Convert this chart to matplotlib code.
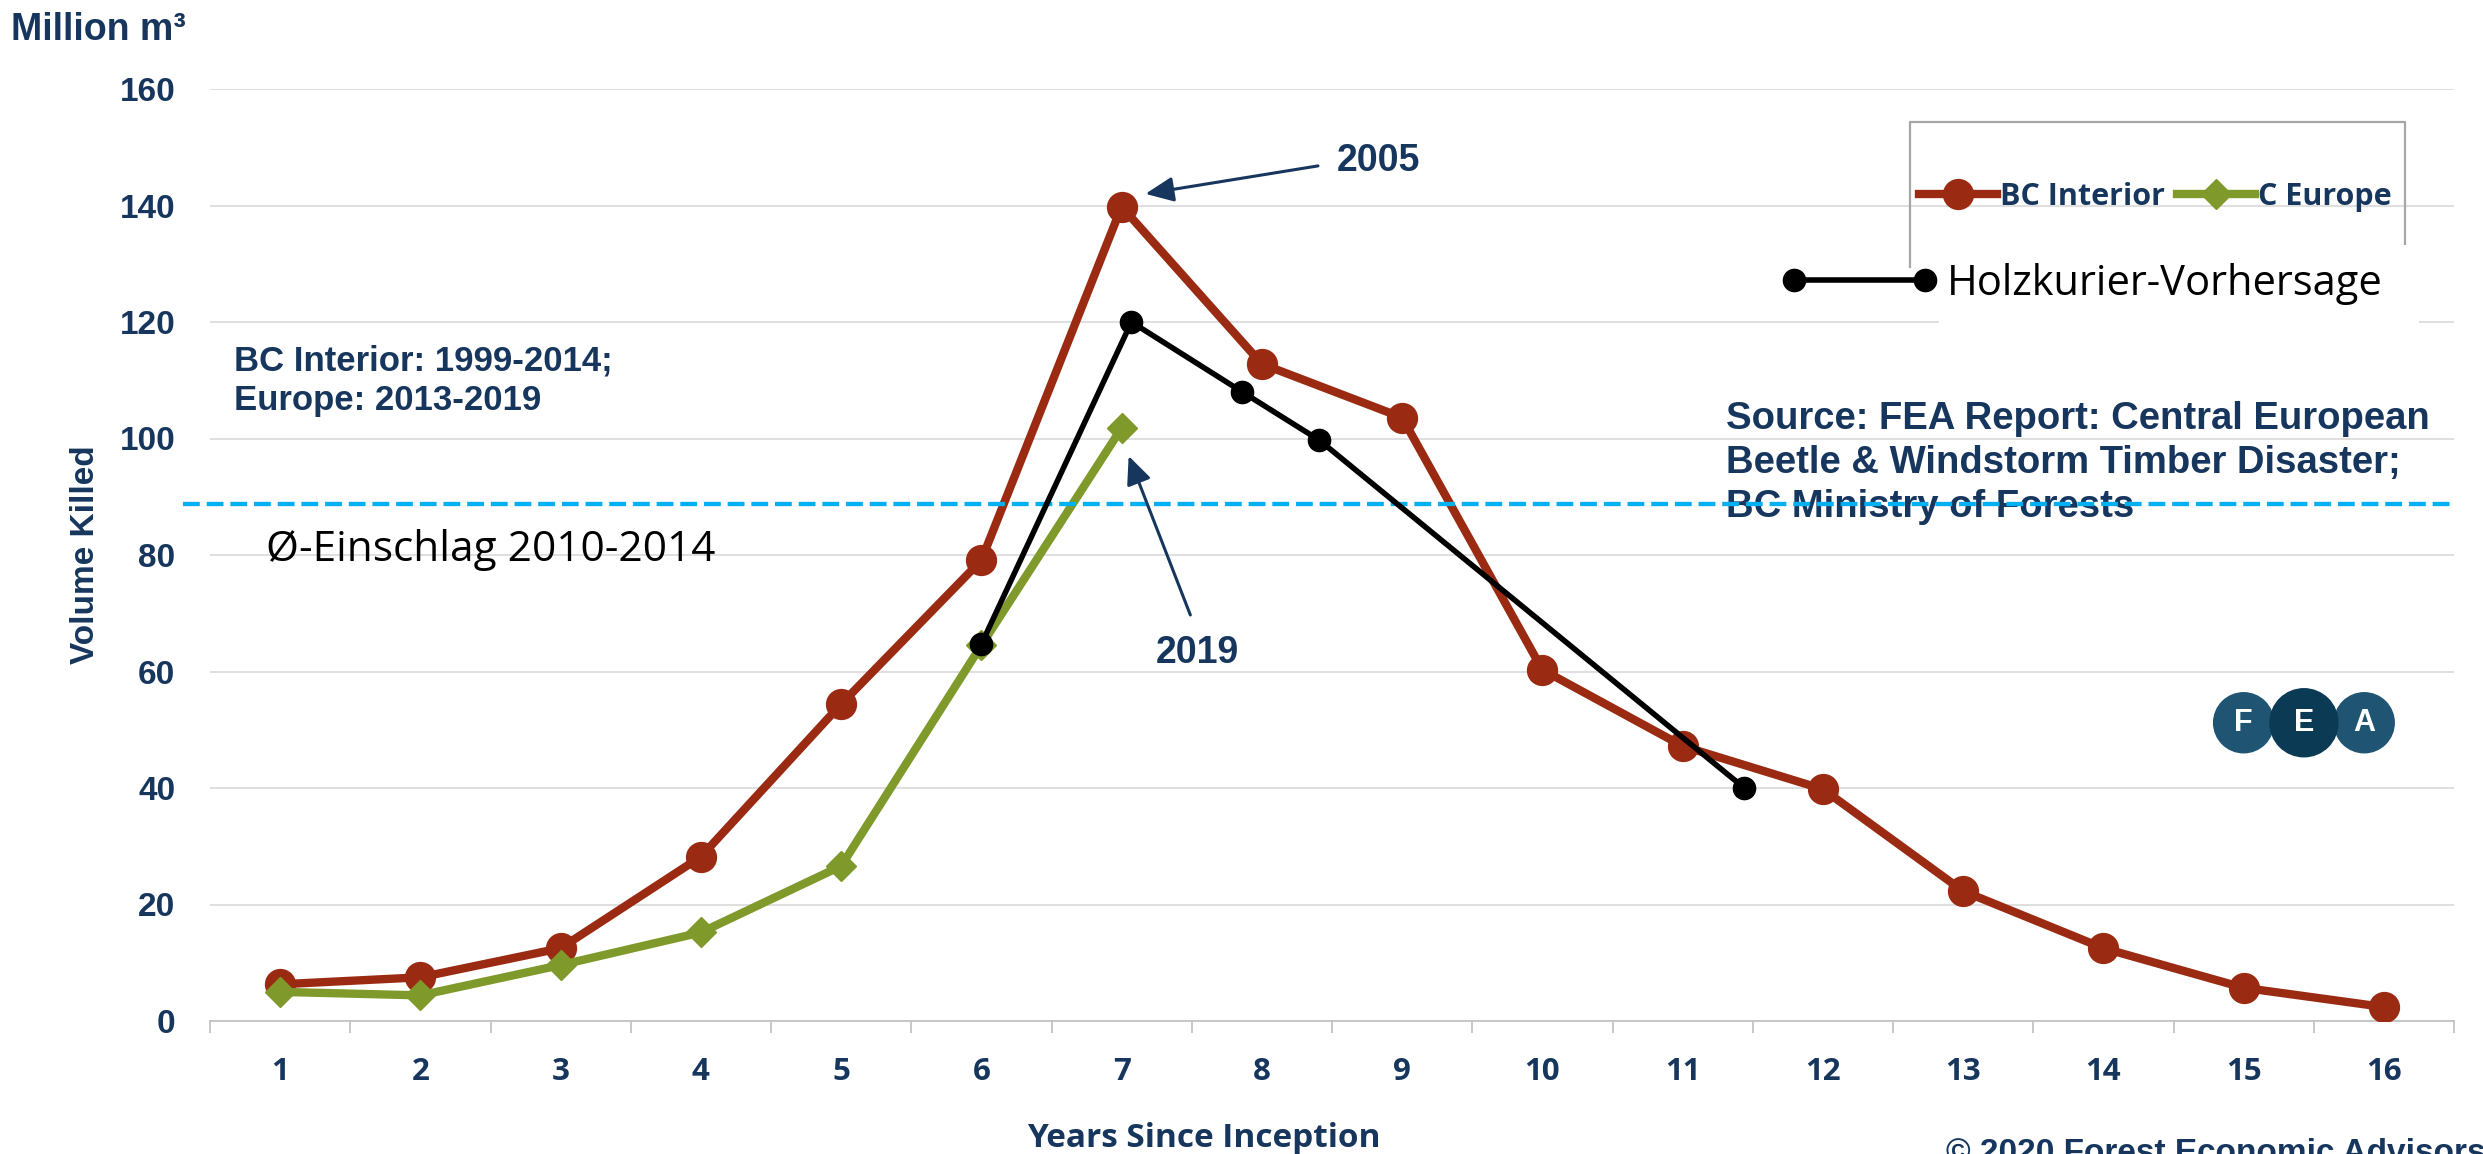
import matplotlib
matplotlib.use('Agg')
import matplotlib.pyplot as plt
from matplotlib.patches import Ellipse, Rectangle
from matplotlib.legend_handler import HandlerLine2D
from matplotlib.font_manager import FontProperties

# --- data ---
YEARS = list(range(1, 17))
BC_INTERIOR = [6.3, 7.5, 12.5, 28.2, 54.4, 79.1, 139.8, 112.8, 103.6,
               60.3, 47.2, 39.8, 22.3, 12.5, 5.7, 2.4]
C_EUROPE = [5.0, 4.4, 9.6, 15.2, 26.6, 64.5, 101.8]
FORECAST_X = [6.0, 7.07, 7.86, 8.41, 11.44]
FORECAST_Y = [64.7, 120.0, 108.0, 99.7, 40.0]
AVG_HARVEST = 88.8
Y_TICKS = [0, 20, 40, 60, 80, 100, 120, 140, 160]

RED = '#9B2A12'
GREEN = '#7F9A2B'
NAVY = '#17365D'
BLUE = '#00B0F0'
GRID = '#D9D9D9'

W, H = 2483, 1154


def fx(px):
    return px / W


def fy(py):
    return 1 - py / H


ARIAL_B = dict(family='Liberation Sans', weight='bold', color=NAVY)

fig = plt.figure(figsize=(W / 100, H / 100), dpi=100)
ax = fig.add_axes([fx(210), fy(1021), (2454 - 210) / W, (1021 - 89) / H])

# series
red_line, = ax.plot(YEARS, BC_INTERIOR, color=RED, lw=6, marker='o',
                    markersize=21.5, zorder=3)
green_line, = ax.plot(YEARS[:len(C_EUROPE)], C_EUROPE, color=GREEN, lw=6,
                      marker='D', markersize=15.5, zorder=3.5)
ax.plot([0.31, 16.5], [AVG_HARVEST, AVG_HARVEST], color=BLUE, lw=3.1,
        dashes=(3.9, 1.6), clip_on=False, zorder=4)
black_line, = ax.plot(FORECAST_X, FORECAST_Y, color='black', lw=4,
                      marker='o', markersize=16, zorder=5)

# axes styling
ax.set_xlim(0.5, 16.5)
ax.set_ylim(0, 160)
ax.set_yticks(Y_TICKS)
ax.set_xticks(YEARS)
ax.set_xticks([y - 0.5 for y in YEARS] + [16.5], minor=True)
ax.grid(True, axis='y', color=GRID, lw=1.2)
ax.set_axisbelow(True)
for side in ['top', 'right', 'left']:
    ax.spines[side].set_visible(False)
ax.spines['bottom'].set_color('#C4C4C4')
ax.spines['bottom'].set_linewidth(1.3)
ax.tick_params(axis='y', length=0, pad=25)
ax.tick_params(axis='x', which='major', length=0, pad=26)
ax.tick_params(axis='x', which='minor', length=8.6, width=1.3, color='#C4C4C4')

for lab in ax.get_yticklabels():
    lab.set_fontproperties(FontProperties(family='Liberation Sans', weight='bold', size=24))
    lab.set_color(NAVY)
for lab in ax.get_xticklabels():
    lab.set_fontproperties(FontProperties(family='Open Sans', weight='bold', size=22.5))
    lab.set_color(NAVY)

# axis titles
fig.text(fx(11), fy(40), 'Million m³', ha='left', va='baseline', fontsize=27, **ARIAL_B)
fig.text(fx(85), fy(555), 'Volume Killed', rotation=90, ha='center', va='center',
         fontsize=24, **ARIAL_B)
fig.text(fx(1027), fy(1147), 'Years Since Inception', ha='left', va='baseline',
         fontsize=24, family='Open Sans', weight='bold', color=NAVY)
# cut off at the bottom edge, as in the original slide
fig.text(fx(1946), fy(1138), '© 2020 Forest Economic Advisors', ha='left', va='top',
         fontsize=24, **ARIAL_B)

# annotations
ax.text(0.672, 116.2, 'BC Interior: 1999-2014;\nEurope: 2013-2019', ha='left', va='top',
        fontsize=25, linespacing=1.28, zorder=6, **ARIAL_B)
ax.text(11.31, 106.4, 'Source: FEA Report: Central European\nBeetle & Windstorm Timber Disaster;\n'
        'BC Ministry of Forests', ha='left', va='top', fontsize=27.5, linespacing=1.28,
        zorder=3.8, **ARIAL_B)
ax.text(0.90, 78.9, 'Ø-Einschlag 2010-2014', ha='left', va='baseline', fontsize=30.5,
        family='Open Sans', color='black', zorder=6)

arrow = dict(arrowstyle='-|>,head_length=0.45,head_width=0.2', lw=2.2, color=NAVY,
             mutation_scale=38, shrinkA=0, shrinkB=0)
ax.annotate('', xy=(7.17, 142.0), xytext=(8.40, 146.8), arrowprops=arrow, zorder=6)
ax.text(8.83, 147.6, '2005', ha='center', va='center', fontsize=27, zorder=6, **ARIAL_B)
ax.annotate('', xy=(7.05, 97.0), xytext=(7.49, 69.7), arrowprops=arrow, zorder=6)
ax.text(7.54, 63.2, '2019', ha='center', va='center', fontsize=27, zorder=6, **ARIAL_B)

# FEA logo: outer circles first, the darker middle one on top
logo_x = [15.0, 15.86, 15.43]
logo_r = [30, 30, 34]
logo_c = ['#1F5573', '#1F5573', '#0B3A55']
logo_t = ['F', 'A', 'E']
for x, r, c, t in zip(logo_x, logo_r, logo_c, logo_t):
    ax.add_patch(Ellipse((x, 51.2), 2 * r / 140.3, 2 * r / 5.825, color=c, zorder=6))
    ax.text(x, 51.2, t, ha='center', va='center', fontsize=22, family='Liberation Sans',
            weight='bold', color='white', zorder=7)


# legend box (top and sides only, bottom covered by the forecast label)
def axx(px):
    return (px - 210) / 2244


def axy(py):
    return (1021 - py) / 932


ax.plot([axx(1910), axx(1910), axx(2405), axx(2405)],
        [axy(267), axy(122), axy(122), axy(245)], transform=ax.transAxes,
        color='#A6A6A6', lw=1.6, clip_on=False, zorder=7)
ax.add_patch(Rectangle((axx(1939), axy(324)), axx(2419) - axx(1939), axy(245) - axy(324),
                       transform=ax.transAxes, facecolor='white', edgecolor='none',
                       zorder=8, clip_on=False))

leg1 = ax.legend([red_line, green_line], ['BC Interior', 'C Europe'], ncol=2,
                 frameon=False, loc='center left', bbox_to_anchor=(axx(1919), axy(197)),
                 borderpad=0, borderaxespad=0, handlelength=2.55, handletextpad=0.1,
                 columnspacing=0.4,
                 prop=FontProperties(family='Open Sans', weight='bold', size=22))
for t in leg1.get_texts():
    t.set_color(NAVY)
leg1.set_zorder(9)
ax.add_artist(leg1)

leg2 = ax.legend([black_line], ['Holzkurier-Vorhersage'], frameon=False,
                 loc='center left', bbox_to_anchor=(axx(1794), axy(284)),
                 borderpad=0, borderaxespad=0, handlelength=3.14, handletextpad=0.53,
                 handler_map={black_line: HandlerLine2D(marker_pad=0, numpoints=2)},
                 prop=FontProperties(family='Open Sans', size=30))
leg2.set_zorder(9)

fig.savefig('out.png', dpi=100)
